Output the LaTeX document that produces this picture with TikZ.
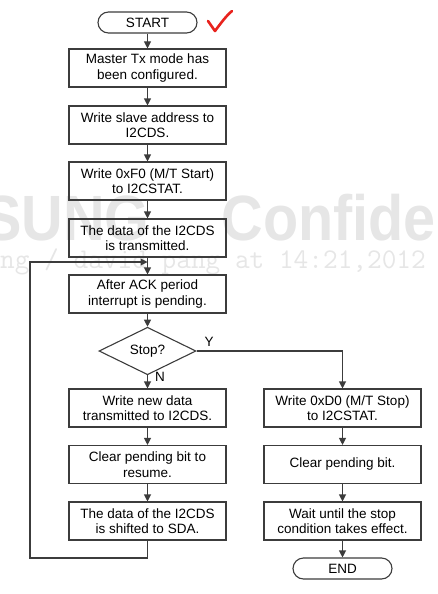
\documentclass[tikz,border=0pt]{standalone}
\usepackage{fontspec}
\setmainfont{Liberation Sans}
\usepackage{tikz}
\usepackage{xcolor}
\usetikzlibrary{shapes.geometric,arrows.meta}

\definecolor{linegray}{HTML}{3C3C3C}
\definecolor{markgray}{HTML}{E6E6E6}
\definecolor{checkred}{HTML}{E8231E}

\begin{document}
\begin{tikzpicture}[x=1pt,y=-1pt,
  box/.style={draw=linegray, line width=1.1pt, minimum width=157pt, minimum height=38pt,
    inner sep=0pt, align=center, font=\fontsize{13.5}{15.5}\selectfont},
  term/.style={draw=linegray, line width=1.1pt, rounded corners=10.5pt, minimum width=99pt,
    minimum height=21pt, inner sep=0pt, font=\fontsize{13.5}{15.5}\selectfont},
  decide/.style={diamond, draw=linegray, line width=1.1pt, minimum width=97pt,
    minimum height=36pt, inner sep=0pt, font=\fontsize{13.5}{15.5}\selectfont},
  flow/.style={draw=linegray, line width=1.1pt, -{Triangle[length=7pt,width=7pt]}},
  tag/.style={font=\fontsize{13.5}{15.5}\selectfont, inner sep=0pt}]
  \useasboundingbox (0,0) rectangle (438,594);

  % watermark behind the chart
  \begin{scope}
    \clip (0,0) rectangle (438,594);
    \node[anchor=base west, text=markgray, inner sep=0pt, xscale=0.9,
      font=\fontsize{64}{64}\bfseries\selectfont] (mark) at (-17,240) {SUNG\hspace{80pt}Confide};
    \node[anchor=base west, text=markgray, inner sep=0pt,
      font=\ttfamily\fontsize{28.5}{28.5}\selectfont] (stamp) at (0,268) {ng / david pang at 14:21,2012};
  \end{scope}

  % left column
  \node[term] (start) at (147.5,22.5) {START};
  \node[box] (master) at (147.5,68) {Master Tx mode has\\been configured.};
  \node[box] (slave) at (147.5,125) {Write slave address to\\I2CDS.};
  \node[box] (mstart) at (147.5,181) {Write 0xF0 (M/T Start)\\to I2CSTAT.};
  \node[box] (sent) at (147.5,238) {The data of the I2CDS\\is transmitted.};
  \node[box] (ack) at (147.5,294) {After ACK period\\interrupt is pending.};
  \node[decide] (stop) at (147.5,351) {Stop?};
  \node[box] (newdata) at (147.5,408) {Write new data\\transmitted to I2CDS.};
  \node[box] (resume) at (147.5,464.5) {Clear pending bit to\\resume.};
  \node[box] (shift) at (147.5,521) {The data of the I2CDS\\is shifted to SDA.};

  % right column
  \node[box] (mstop) at (342.5,408) {Write 0xD0 (M/T Stop)\\to I2CSTAT.};
  \node[box] (clearbit) at (342.5,464.5) {Clear pending bit.};
  \node[box] (wait) at (342.5,521) {Wait until the stop\\condition takes effect.};
  \node[term] (finish) at (342.5,568.5) {END};

  % branch labels
  \node[tag] (yes) at (209,342) {Y};
  \node[tag] (no) at (160,377) {N};

  % loop corners
  \coordinate (turn) at (30,558);
  \coordinate (join) at (147.5,262);

  % arrows
  \draw[flow] (start) -- (master);
  \draw[flow] (master) -- (slave);
  \draw[flow] (slave) -- (mstart);
  \draw[flow] (mstart) -- (sent);
  \draw[flow] (sent) -- (ack);
  \draw[flow] (ack) -- (stop);
  \draw[flow] (stop) -- (newdata);
  \draw[flow] (newdata) -- (resume);
  \draw[flow] (resume) -- (shift);
  \draw[flow] (shift.south) |- (turn) |- (join);
  \draw[flow] (stop.east) -| (mstop.north);
  \draw[flow] (mstop) -- (clearbit);
  \draw[flow] (clearbit) -- (wait);
  \draw[flow] (wait) -- (finish);

  % red tick
  \draw[checkred, line width=2.6pt, line cap=round, line join=round]
    (208,21) -- (215,31) .. controls (221,23) and (226,16) .. (232,11);
\end{tikzpicture}
\end{document}
